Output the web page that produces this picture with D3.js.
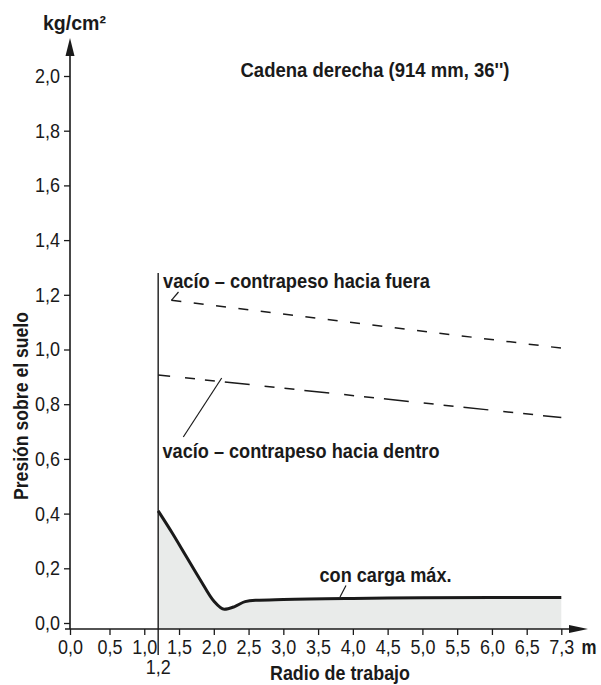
<!DOCTYPE html>
<html>
<head>
<meta charset="utf-8">
<script src="https://cdn.jsdelivr.net/npm/d3@7"></script>
<style>
  body { margin: 0; background: #fff; }
  text { font-family: "Liberation Sans", Arial, sans-serif; fill: #1a1a1a; }
  .bold { font-weight: 700; }
</style>
</head>
<body>
<div id="chart"></div>
<script>
// data
const xTicks = [0, 0.5, 1, 1.5, 2, 2.5, 3, 3.5, 4, 4.5, 5, 5.5, 6, 6.5, 7.3];
const yTicks = [0, 0.2, 0.4, 0.6, 0.8, 1.0, 1.2, 1.4, 1.6, 1.8, 2.0];

const loadX = [1.2, 1.4, 1.6, 1.8, 2.0, 2.15, 2.3, 2.45, 2.6, 3.0, 4.0, 5.0, 6.0, 7.3];
const loadY = [0.41, 0.33, 0.245, 0.16, 0.08, 0.05, 0.06, 0.078, 0.083, 0.086, 0.09, 0.092, 0.093, 0.093];

const outX = [1.39, 7.3];
const outY = [1.18, 1.005];

const inX = [1.2, 7.3];
const inY = [0.907, 0.751];

const W = 601, H = 685;
const fmt = d => d3.format(".1f")(d).replace(".", ",");

const svg = d3.select("#chart").append("svg")
    .attr("width", W)
    .attr("height", H);

// the x axis is squeezed at both ends in the original drawing
const xScale = d3.scaleLinear()
    .domain([0, 0.5, 6.5, 7.3])
    .range([70, 109.5, 526.7, 561.3]);
const yScale = d3.scaleLinear()
    .domain([0, 2])
    .range([623, 76]);
const baseY = 629;

const loadData = loadX.map((x, i) => ({x: x, y: loadY[i]}));

// grey area under the loaded curve
const area = d3.area()
    .x(d => xScale(d.x))
    .y0(baseY)
    .y1(d => yScale(d.y))
    .curve(d3.curveMonotoneX);
svg.append("path")
    .attr("d", area(loadData))
    .attr("fill", "#e9ebea");

// axes
const xAxis = d3.axisBottom(xScale).tickValues(xTicks).tickSize(6).tickPadding(5).tickFormat(fmt);
svg.append("g")
    .attr("transform", `translate(0,${baseY})`)
    .call(xAxis)
    .call(g => g.select(".domain").remove())
    .call(g => g.selectAll("line").attr("stroke", "#1a1a1a").attr("stroke-width", 1.3))
    .call(g => g.selectAll("text").style("font-size", "20px").attr("fill", "#333")
        .attr("textLength", 25).attr("lengthAdjust", "spacingAndGlyphs"));

const yAxis = d3.axisLeft(yScale).tickValues(yTicks).tickSize(6).tickPadding(4).tickFormat(fmt);
svg.append("g")
    .attr("transform", "translate(70,0)")
    .call(yAxis)
    .call(g => g.select(".domain").remove())
    .call(g => g.selectAll("line").attr("stroke", "#1a1a1a").attr("stroke-width", 1.3))
    .call(g => g.selectAll("text").style("font-size", "20px").attr("fill", "#333")
        .attr("textLength", 25).attr("lengthAdjust", "spacingAndGlyphs"));

// axis lines with arrow heads
svg.append("line")
    .attr("x1", 65).attr("x2", 572).attr("y1", baseY).attr("y2", baseY)
    .attr("stroke", "#1a1a1a").attr("stroke-width", 1.6);
svg.append("path")
    .attr("d", `M569,${baseY - 4}L588,${baseY}L569,${baseY + 4}Z`)
    .attr("fill", "#1a1a1a");
svg.append("line")
    .attr("x1", 70).attr("x2", 70).attr("y1", baseY).attr("y2", 52)
    .attr("stroke", "#1a1a1a").attr("stroke-width", 1.6);
svg.append("path")
    .attr("d", "M65.5,56L70,38L74.5,56Z")
    .attr("fill", "#1a1a1a");

// vertical line at 1,2 m
svg.append("line")
    .attr("x1", xScale(1.2)).attr("x2", xScale(1.2))
    .attr("y1", yScale(1.28)).attr("y2", 655)
    .attr("stroke", "#1a1a1a").attr("stroke-width", 1.4);
svg.append("text")
    .attr("x", xScale(1.2)).attr("y", 674)
    .attr("text-anchor", "middle")
    .attr("fill", "#333")
    .attr("textLength", 25).attr("lengthAdjust", "spacingAndGlyphs")
    .style("font-size", "20px")
    .text("1,2");

// loaded curve
const line = d3.line()
    .x(d => xScale(d.x))
    .y(d => yScale(d.y))
    .curve(d3.curveMonotoneX);
svg.append("path")
    .attr("d", line(loadData))
    .attr("fill", "none")
    .attr("stroke", "#1a1a1a")
    .attr("stroke-width", 3);

// empty, counterweight outwards
const straight = d3.line().x(d => xScale(d.x)).y(d => yScale(d.y));
svg.append("path")
    .attr("d", straight(outX.map((x, i) => ({x: x, y: outY[i]}))))
    .attr("fill", "none")
    .attr("stroke", "#1a1a1a")
    .attr("stroke-width", 1.5)
    .attr("stroke-dasharray", "10,12.5");

// empty, counterweight inwards
svg.append("path")
    .attr("d", straight(inX.map((x, i) => ({x: x, y: inY[i]}))))
    .attr("fill", "none")
    .attr("stroke", "#1a1a1a")
    .attr("stroke-width", 1.5)
    .attr("stroke-dasharray", "25,15,10,10,10,10")
    .attr("stroke-dashoffset", 13);

// leaders
const leader = (x1, y1, x2, y2) => svg.append("line")
    .attr("x1", x1).attr("y1", y1).attr("x2", x2).attr("y2", y2)
    .attr("stroke", "#1a1a1a").attr("stroke-width", 1.2);
leader(xScale(1.39), yScale(1.18), 178.5, 292);
leader(221.7, 378, 183.3, 437);
leader(340, 597, 346, 585.5);

// labels, squeezed to the condensed width of the original
const label = (x, y, txt, size, len, anchor) => svg.append("text")
    .attr("class", "bold")
    .attr("x", x).attr("y", y)
    .attr("text-anchor", anchor || "start")
    .attr("textLength", len)
    .attr("lengthAdjust", "spacingAndGlyphs")
    .style("font-size", size + "px")
    .text(txt);

label(163, 288, "vacío – contrapeso hacia fuera", 21, 267);
label(162.5, 458, "vacío – contrapeso hacia dentro", 21, 277);
label(319.5, 581.5, "con carga máx.", 21, 132);
label(240.5, 77, "Cadena derecha (914 mm, 36'')", 21, 269);
label(43, 30, "kg/cm²", 21, 63);
label(581.5, 654, "m", 21, 15);
label(340, 680, "Radio de trabajo", 21, 140, "middle");

svg.append("text")
    .attr("class", "bold")
    .attr("transform", "translate(28,406) rotate(-90)")
    .attr("text-anchor", "middle")
    .attr("textLength", 188)
    .attr("lengthAdjust", "spacingAndGlyphs")
    .style("font-size", "21px")
    .text("Presión sobre el suelo");
</script>
</body>
</html>
